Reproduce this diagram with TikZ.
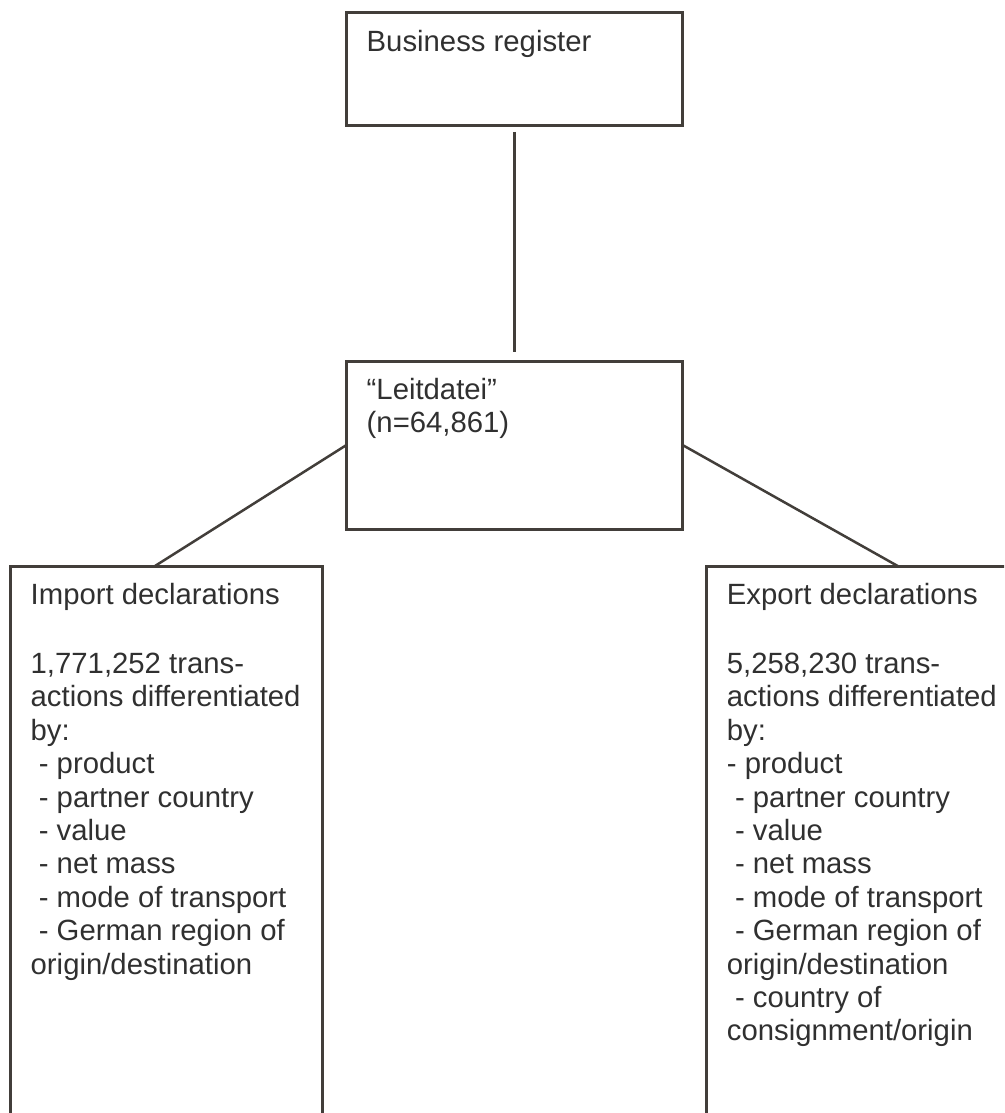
\documentclass[tikz,border=0pt]{standalone}
\usepackage{fontspec}
\setmainfont{Liberation Sans}
\usepackage{tikz}
\usetikzlibrary{positioning}
\definecolor{frame}{RGB}{66,62,58}
\definecolor{ink}{RGB}{48,48,48}
\newcommand{\ind}{\hspace*{.278em}}

\begin{document}
\begin{tikzpicture}[
    x=1pt, y=-1pt,
    font=\fontsize{29.3}{33.4}\selectfont,
    panel/.style={draw=frame, line width=3pt, rectangle, inner sep=0pt,
                  outer sep=0pt, anchor=north west},
    note/.style={anchor=north west, align=left, inner sep=0pt, text=ink,
                 xshift=20pt, yshift=-17pt},
    link/.style={draw=frame, line width=2.5pt}
]
\useasboundingbox (0,0) rectangle (1004,1113);
\clip (0,0) rectangle (1004,1113);
% boxes
\node[panel, minimum width=336pt, minimum height=113pt] (breg) at (346.5,13) {};
\node[panel, minimum width=336pt, minimum height=168pt] (leit) at (346.5,361) {};
\node[panel, minimum width=312pt, minimum height=600pt] (imp) at (10.5,566) {};
\node[panel, minimum width=400pt, minimum height=600pt] (exp) at (706.7,566) {};
% texts
\node[note] (breg-t) at (breg.north west) {Business register};
\node[note] (leit-t) at (leit.north west) {“Leitdatei”\\(n=64,861)};
\node[note] (imp-t) at (imp.north west)
     {Import declarations\\[35.6pt]
      1,771,252 trans-\\actions differentiated\\by:\\
      \ind- product\\\ind- partner country\\\ind- value\\\ind- net mass\\
      \ind- mode of transport\\\ind- German region of\\origin/destination};
\node[note] (exp-t) at (exp.north west)
     {Export declarations\\[35.6pt]
      5,258,230 trans-\\actions differentiated\\by:\\
      - product\\\ind- partner country\\\ind- value\\\ind- net mass\\
      \ind- mode of transport\\\ind- German region of\\origin/destination\\
      \ind- country of\\consignment/origin};
% connectors
\draw[link, shorten <=6pt, shorten >=9pt] (breg.south) -- (leit.north);
\draw[link] (leit.west) -- ([xshift=-11.5pt]imp.north);
\draw[link] (leit.east) -- ([xshift=191pt]exp.north west);
\end{tikzpicture}
\end{document}
